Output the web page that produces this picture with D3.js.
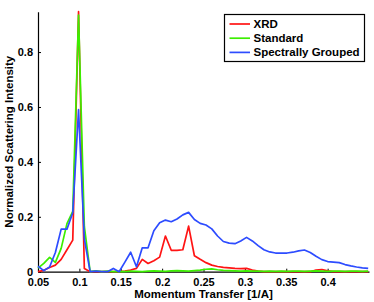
<!DOCTYPE html>
<html>
<head>
<meta charset="utf-8">
<script src="https://cdn.jsdelivr.net/npm/d3@7"></script>
<style>
  body { margin: 0; background: #fff; }
  svg { display: block; font-family: "Liberation Sans", Arial, sans-serif; font-weight: bold; }
</style>
</head>
<body>
<svg width="374" height="302"></svg>
<script>
// momentum transfer grid [1/A]
const q = [0.050, 0.057, 0.064, 0.071, 0.078, 0.085, 0.092, 0.099, 0.106, 0.113,
           0.120, 0.127, 0.134, 0.141, 0.148, 0.155, 0.162, 0.169, 0.176, 0.183,
           0.190, 0.197, 0.204, 0.211, 0.218, 0.225, 0.232, 0.239, 0.246, 0.253,
           0.260, 0.267, 0.274, 0.281, 0.288, 0.295, 0.302, 0.309, 0.316, 0.323,
           0.330, 0.337, 0.344, 0.351, 0.358, 0.365, 0.372, 0.379, 0.386, 0.393,
           0.400, 0.407, 0.414, 0.421, 0.428, 0.435, 0.442, 0.449];

const xrd = [0.000, 0.005, 0.015, 0.024, 0.045, 0.080, 0.115, 0.947, 0.012, 0.000,
             0.000, 0.000, 0.000, 0.000, 0.000, 0.002, 0.006, 0.012, 0.045, 0.030,
             0.040, 0.053, 0.130, 0.078, 0.078, 0.080, 0.166, 0.058, 0.045, 0.033,
             0.024, 0.019, 0.016, 0.014, 0.012, 0.011, 0.012, 0.006, 0.002, 0.000,
             0.000, 0.000, 0.000, 0.000, 0.000, 0.000, 0.000, 0.000, 0.006, 0.008,
             0.003, 0.000, 0.000, 0.000, 0.000, 0.000, 0.000, 0.000];

const standard = [0.013, 0.030, 0.052, 0.034, 0.085, 0.175, 0.220, 0.935, 0.165, 0.000,
                  0.003, 0.000, 0.002, 0.000, 0.001, 0.000, 0.002, 0.001, 0.000, 0.002,
                  0.003, 0.002, 0.001, 0.003, 0.004, 0.003, 0.002, 0.004, 0.006, 0.009,
                  0.010, 0.007, 0.005, 0.004, 0.003, 0.002, 0.003, 0.002, 0.002, 0.001,
                  0.002, 0.001, 0.002, 0.001, 0.002, 0.002, 0.001, 0.002, 0.003, 0.002,
                  0.001, 0.002, 0.002, 0.001, 0.002, 0.002, 0.001, 0.002];

const grouped = [0.020, 0.004, 0.017, 0.070, 0.155, 0.155, 0.215, 0.590, 0.120, 0.000,
                 0.002, 0.000, 0.000, 0.012, 0.000, 0.035, 0.071, 0.018, 0.087, 0.087,
                 0.149, 0.178, 0.188, 0.182, 0.192, 0.207, 0.216, 0.190, 0.176, 0.170,
                 0.156, 0.130, 0.110, 0.104, 0.102, 0.112, 0.125, 0.112, 0.095, 0.080,
                 0.072, 0.068, 0.068, 0.068, 0.071, 0.076, 0.079, 0.070, 0.056, 0.044,
                 0.037, 0.035, 0.033, 0.026, 0.021, 0.017, 0.014, 0.012];

const seriesNames = ["XRD", "Standard", "Spectrally Grouped"];
const seriesColors = ["#ff1414", "#3cee00", "#2d4cff"];

const xTicks = [0.05, 0.1, 0.15, 0.2, 0.25, 0.3, 0.35, 0.4];
const xTickLabels = ["0.05", "0.1", "0.15", "0.2", "0.25", "0.3", "0.35", "0.4"];
const yTicks = [0, 0.2, 0.4, 0.6, 0.8];
const yTickLabels = ["0", "0.2", "0.4", "0.6", "0.8"];

const svg = d3.select("svg");
const margin = { top: 11.7, right: 5, bottom: 30.3, left: 38 };
const width = +svg.attr("width") - margin.left - margin.right;
const height = +svg.attr("height") - margin.top - margin.bottom;

const g = svg.append("g").attr("transform", `translate(${margin.left},${margin.top})`);

const x = d3.scaleLinear().domain([0.05, 0.45]).range([0, width]);
const y = d3.scaleLinear().domain([0, d3.max(xrd)]).range([height, 0]);

const xAxis = g.append("g")
  .attr("transform", `translate(0,${height})`)
  .call(d3.axisBottom(x).tickValues(xTicks)
    .tickFormat((d, i) => xTickLabels[i])
    .tickSizeInner(-3).tickSizeOuter(0).tickPadding(7));

const yAxis = g.append("g")
  .call(d3.axisLeft(y).tickValues(yTicks)
    .tickFormat((d, i) => yTickLabels[i])
    .tickSizeInner(-3).tickSizeOuter(0).tickPadding(5));

[xAxis, yAxis].forEach(a => {
  a.selectAll("path.domain").attr("stroke", "#000").attr("stroke-width", 1.2);
  a.selectAll(".tick line").attr("stroke", "#000");
  a.selectAll("text").attr("font-size", 11).attr("font-weight", "bold")
    .attr("font-family", "'Liberation Sans', Arial, sans-serif").attr("fill", "#000");
});

// data lines
const line = d3.line().x(d => x(d[0])).y(d => y(d[1]));
[xrd, standard, grouped].forEach((vals, k) => {
  g.append("path")
    .datum(q.map((qq, i) => [qq, vals[i]]))
    .attr("fill", "none")
    .attr("stroke", seriesColors[k])
    .attr("stroke-width", 1.7)
    .attr("stroke-linejoin", "round")
    .attr("d", line);
});

// axis titles
svg.append("text")
  .attr("x", margin.left + width / 2)
  .attr("y", 298)
  .attr("text-anchor", "middle")
  .attr("font-size", 11.5)
  .text("Momentum Transfer [1/A]");

svg.append("text")
  .attr("transform", `translate(13,${margin.top + height / 2}) rotate(-90)`)
  .attr("text-anchor", "middle")
  .attr("font-size", 11.5)
  .text("Normalized Scattering Intensity");

// legend
const legend = svg.append("g").attr("transform", "translate(224.5,14.5)");
legend.append("rect")
  .attr("width", 140).attr("height", 47)
  .attr("fill", "#fff").attr("stroke", "#000").attr("stroke-width", 1.2);

seriesNames.forEach((name, k) => {
  const ly = 9.5 + k * 14.2;
  legend.append("line")
    .attr("x1", 5).attr("x2", 25.5).attr("y1", ly).attr("y2", ly)
    .attr("stroke", seriesColors[k]).attr("stroke-width", 1.7);
  legend.append("text")
    .attr("x", 29).attr("y", ly).attr("dy", "0.35em")
    .attr("font-size", 11.5)
    .text(name);
});
</script>
</body>
</html>
